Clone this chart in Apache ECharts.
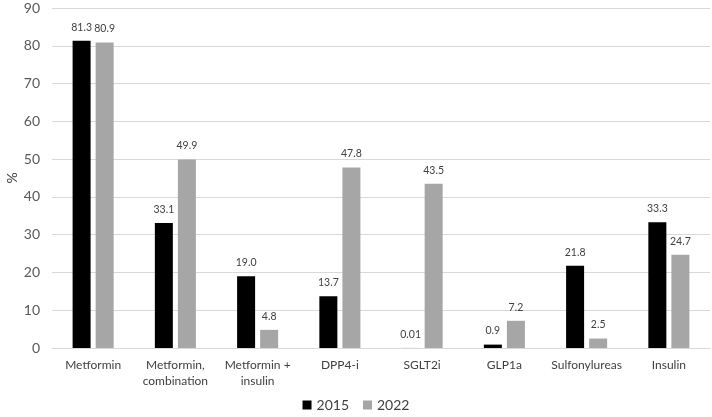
<!DOCTYPE html>
<html><head><meta charset="utf-8">
<script src="https://cdn.jsdelivr.net/npm/echarts@6/dist/echarts.min.js"></script>
<style>html,body{margin:0;padding:0;background:#fff}#c{width:712px;height:417px}</style>
</head><body><div id="c"></div>
<script>
const categories = ['Metformin', 'Metformin,\ncombination', 'Metformin +\ninsulin', 'DPP4-i', 'SGLT2i', 'GLP1a', 'Sulfonylureas', 'Insulin'];
const values2015 = [81.3, 33.1, 19.0, 13.7, 0.01, 0.9, 21.8, 33.3];
const values2022 = [80.9, 49.9, 4.8, 47.8, 43.5, 7.2, 2.5, 24.7];
const labels2015 = ['81.3', '33.1', '19.0', '13.7', '0.01', '0.9', '21.8', '33.3'];
const labels2022 = ['80.9', '49.9', '4.8', '47.8', '43.5', '7.2', '2.5', '24.7'];
const yTicks = {min: 0, max: 90, interval: 10};
const yAxisTitle = '%';

const font = 'Lato, "Open Sans", sans-serif';
const chart = echarts.init(document.getElementById('c'));
function lbl(arr) {
  return {show: true, position: 'top', distance: 8, color: '#404040', fontSize: 10.5, fontFamily: font,
    formatter: p => arr[p.dataIndex]};
}
chart.setOption({
  animation: false,
  grid: {left: 52, right: 2, top: 8, bottom: 69, containLabel: false, outerBoundsMode: 'none'},
  graphic: [{
    type: 'text', x: 12, y: 178, rotation: Math.PI / 2,
    style: {text: yAxisTitle, fill: '#404040', fontSize: 14, fontFamily: font, align: 'center', verticalAlign: 'middle'}
  }],
  legend: {
    bottom: 0, left: 'center', itemWidth: 9, itemHeight: 9, itemGap: 14, icon: 'rect',
    textStyle: {color: '#404040', fontSize: 14, fontFamily: font},
    data: ['2015', '2022']
  },
  xAxis: {
    type: 'category', data: categories,
    axisLine: {lineStyle: {color: '#d9d9d9'}}, axisTick: {show: false},
    axisLabel: {color: '#404040', fontSize: 12, fontFamily: font, interval: 0, margin: 9, lineHeight: 16}
  },
  yAxis: {
    type: 'value', min: yTicks.min, max: yTicks.max, interval: yTicks.interval,
    axisLine: {show: false}, axisTick: {show: false},
    axisLabel: {color: '#595959', fontSize: 14, fontFamily: font, margin: 12},
    splitLine: {lineStyle: {color: '#d9d9d9'}}
  },
  series: [
    {name: '2015', type: 'bar', data: values2015, barWidth: 18, barGap: '28%',
     itemStyle: {color: '#000000'}, label: lbl(labels2015)},
    {name: '2022', type: 'bar', data: values2022, barWidth: 18,
     itemStyle: {color: '#a6a6a6'}, label: lbl(labels2022)}
  ]
});
</script></body></html>
